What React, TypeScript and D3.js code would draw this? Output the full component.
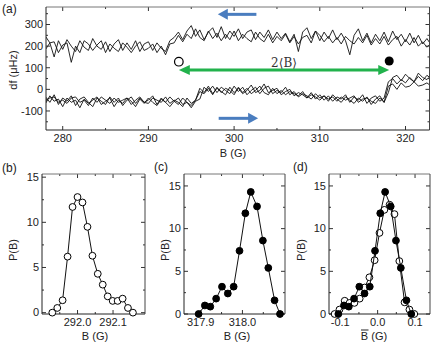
import React from 'react';
import * as d3 from 'd3';

const W = 436;
const H = 346;
const sans = "'Liberation Sans', Arial, Helvetica, sans-serif";

// (a) df traces in uHz, one value every 0.5 G starting at 278 G
const fieldStart = 278;
const fieldStep = 0.5;

const downSweep1 = [
  245, 215, 150, 225, 185, 230, 200, 175, 225, 195,
  180, 235, 200, 185, 220, 175, 210, 230, 180, 215,
  185, 225, 175, 210, 220, 180, 215, 190, 175, 225,
  240, 265, 230, 270, 295, 245, 275, 230, 265, 285,
  240, 290, 235, 270, 245, 280, 235, 265, 275, 230,
  265, 240, 275, 230, 265, 235, 260, 220, 255, 175,
  265, 285, 235, 270, 225, 265, 235, 275, 230, 260,
  225, 160, 250, 280, 225, 260, 215, 255, 225, 265,
  220, 270, 230, 255, 220, 260, 215, 250, 210, 235, 205,
];
const downSweep2 = [
  185, 215, 220, 170, 205, 215, 125, 200, 170, 225,
  210, 180, 205, 225, 170, 210, 190, 175, 215, 195,
  170, 200, 220, 180, 190, 210, 170, 200, 160, 210,
  215, 250, 220, 255, 235, 280, 240, 225, 270, 235,
  260, 225, 255, 230, 270, 225, 255, 235, 220, 265,
  235, 220, 255, 215, 245, 225, 255, 215, 245, 210,
  240, 250, 215, 270, 250, 220, 245, 215, 240, 210,
  245, 225, 210, 240, 215, 250, 205, 235, 210, 245,
  205, 230, 245, 200, 230, 205, 240, 200, 220, 195, 215,
];
const upSweep1 = [
  -35, -60, -25, -70, -40, -55, -30, -75, -45, -35,
  -60, -80, -40, -55, -70, -35, -60, -40, -75, -50,
  -35, -65, -40, -60, -50, -30, -70, -40, -60, -35,
  -55, -70, -40, -60, -75, -50, 5, -15, 15, -20,
  5, -10, -25, 10, -15, 5, -20, -5, 20, -15,
  -5, 25, -15, -5, 5, -25, -10, 0, -30, -15,
  -25, -40, -15, -45, -25, -50, -30, -55, -35, -45,
  -25, -60, -35, -50, -25, -65, -40, -30, -55, -40,
  35, 50, 25, 45, 30, 55, 35, 60, 40, 65, 50,
];
const upSweep2 = [
  -65, -30, -55, -45, -80, -40, -60, -50, -85, -45,
  -65, -50, -35, -70, -55, -40, -80, -50, -65, -40,
  -55, -80, -45, -65, -40, -60, -75, -45, -60, -80,
  -55, -40, -70, -60, -85, -55, -45, 10, -10, 15,
  -15, 10, -5, -20, 15, -10, 10, -25, -5, 10,
  -20, 5, 15, -20, -5, -15, 10, -25, -10, -35,
  -20, -30, -45, -20, -40, -30, -55, -25, -45, -60,
  -35, -50, -65, -40, -55, -35, -70, -45, -30, -60,
  15, 25, 0, 30, 10, 15, 35, 15, 20, 30, 15,
];
const upSweep3 = [
  -50, -40, -35, -60, -50, -65, -40, -35, -60, -50,
  -75, -40, -60, -35, -50, -65, -40, -60, -50, -40,
  -70, -50, -35, -60, -65, -40, -50, -60, -35, -65,
  -50, -60, -80, -40, -65, -50, -10, -20, 5, -25,
  10, -15, 5, -5, -25, 10, -15, 5, -20, -5,
  15, -15, -25, 5, -20, -5, -25, -10, -20, -30,
  -10, -40, -25, -35, -50, -30, -45, -35, -55, -35,
  -50, -40, -30, -60, -45, -40, -55, -65, -40, -60,
  -15, 55, 65, 40, 70, 50, 35, 75, 55, 45, 65,
];

// switching fields marked in (a)
const switchDown = { field: 293.55, df: 128 };
const switchUp = { field: 318.1, df: 131 };
const spanDf = 90;
const sweepArrowDown = { from: 302.6, to: 298.1, df: 347 };
const sweepArrowUp = { from: 298.2, to: 302.8, df: -134 };

// (b) switching field distribution, down sweep
const bField = [
  291.929, 291.943, 291.958, 291.972, 291.986, 292.0, 292.014, 292.028, 292.042,
  292.057, 292.071, 292.085, 292.099, 292.113, 292.127, 292.142, 292.156,
];
const bProb = [0, 0.52, 1.37, 6.2, 11.7, 12.8, 12.2, 9.5, 6.3, 4.3, 3.1, 1.8, 1.3, 1.3, 1.55, 0.52, 0];

// (c) switching field distribution, up sweep
const cField = [
  317.895, 317.91, 317.923, 317.937, 317.951, 317.965, 317.979, 317.993,
  318.007, 318.02, 318.035, 318.049, 318.062, 318.077, 318.09,
];
const cProb = [0, 1.0, 0.86, 1.8, 3.2, 2.4, 3.2, 7.4, 11.8, 14.3, 12.6, 8.6, 5.4, 1.6, 0];

// (d) both distributions against the reduced field
const dOpenField = [
  -0.115, -0.102, -0.088, -0.075, -0.062, -0.048, -0.035, -0.022, -0.008,
  0.005, 0.018, 0.032, 0.045, 0.058, 0.072, 0.085, 0.098,
];
const dOpenProb = [0, 0.52, 1.55, 1.3, 1.3, 1.8, 3.1, 4.3, 6.3, 9.5, 12.2, 12.8, 11.7, 6.2, 1.37, 0.52, 0];
const dFilledField = [
  -0.105, -0.09, -0.077, -0.063, -0.049, -0.035, -0.021, -0.007,
  0.007, 0.02, 0.035, 0.049, 0.062, 0.077, 0.09,
];
const dFilledProb = [0, 1.0, 0.86, 1.8, 3.2, 2.4, 3.2, 7.4, 11.8, 14.3, 12.6, 8.6, 5.4, 1.6, 0];

const probMajor = [0, 5, 10, 15];
const probMinor = [2.5, 7.5, 12.5];

type Lin = d3.ScaleLinear<number, number>;

function Frame(props: {
  x: Lin; y: Lin;
  xMajor: number[]; xMinor: number[]; yMajor: number[]; yMinor: number[];
  xFmt: (v: number) => string; yFmt: (v: number) => string;
}) {
  const { x, y, xMajor, xMinor, yMajor, yMinor, xFmt, yFmt } = props;
  const [left, right] = x.range();
  const [bottom, top] = y.range();
  const st = { stroke: '#333', strokeWidth: 1 };
  return (
    <g fontFamily={sans} fontSize={11} fill="#222">
      {xMajor.map(v => (
        <g key={'xM' + v}>
          <line x1={x(v)} x2={x(v)} y1={bottom} y2={bottom - 4} {...st} />
          <line x1={x(v)} x2={x(v)} y1={top} y2={top + 4} {...st} />
          <text x={x(v)} y={bottom + 12} textAnchor="middle">{xFmt(v)}</text>
        </g>
      ))}
      {xMinor.map(v => (
        <g key={'xm' + v}>
          <line x1={x(v)} x2={x(v)} y1={bottom} y2={bottom - 2} {...st} />
          <line x1={x(v)} x2={x(v)} y1={top} y2={top + 2} {...st} />
        </g>
      ))}
      {yMajor.map(v => (
        <g key={'yM' + v}>
          <line x1={left} x2={left + 4} y1={y(v)} y2={y(v)} {...st} />
          <line x1={right} x2={right - 4} y1={y(v)} y2={y(v)} {...st} />
          <text x={left - 3} y={y(v)} dy="0.35em" textAnchor="end">{yFmt(v)}</text>
        </g>
      ))}
      {yMinor.map(v => (
        <g key={'ym' + v}>
          <line x1={left} x2={left + 2} y1={y(v)} y2={y(v)} {...st} />
          <line x1={right} x2={right - 2} y1={y(v)} y2={y(v)} {...st} />
        </g>
      ))}
      <line x1={left} x2={right} y1={top} y2={top} stroke="#777" />
      <line x1={right} x2={right} y1={top} y2={bottom} stroke="#444" />
      <line x1={left} x2={left} y1={top} y2={bottom} stroke="#222" />
      <line x1={left} x2={right} y1={bottom} y2={bottom} stroke="#222" />
    </g>
  );
}

function Distribution(props: { x: Lin; y: Lin; field: number[]; prob: number[]; filled: boolean }) {
  const { x, y, field, prob, filled } = props;
  const pts: [number, number][] = field.map((f, i) => [x(f), y(prob[i])]);
  const path = d3.line()(pts) || '';
  return (
    <g>
      <path d={path} fill="none" stroke="#111" strokeWidth={1} />
      {pts.map((p, i) => (
        <circle key={i} cx={p[0]} cy={p[1]} r={3.4}
          fill={filled ? '#000' : '#fff'} stroke="#000" strokeWidth={1} />
      ))}
    </g>
  );
}

function arrowHead(tipX: number, tipY: number, dir: number, len: number, half: number) {
  return `${tipX},${tipY} ${tipX - dir * len},${tipY - half} ${tipX - dir * len},${tipY + half}`;
}

export default function App() {
  // panel (a)
  const xa = d3.scaleLinear().domain([278.05, 322.8]).range([46, 429.5]);
  const ya = d3.scaleLinear().domain([-188, 381]).range([130, 7]);
  const traceLine = d3.line<number>()
    .x((_, i) => xa(fieldStart + i * fieldStep))
    .y(d => ya(d));
  const traces = [downSweep1, downSweep2, upSweep1, upSweep2, upSweep3];

  // panels (b), (c), (d)
  const xb = d3.scaleLinear().domain([291.9, 292.19]).range([42, 145]);
  const yb = d3.scaleLinear().domain([-0.15, 15.35]).range([314, 174]);
  const xc = d3.scaleLinear().domain([317.86, 318.102]).range([184, 285]);
  const yc = d3.scaleLinear().domain([0, 16.4]).range([314, 174]);
  const xd = d3.scaleLinear().domain([-0.13, 0.14]).range([329, 430]);
  const yd = d3.scaleLinear().domain([0, 16.4]).range([314, 174]);

  const f1 = d3.format('.1f');
  const fd = (v: number) => (Math.abs(v) < 1e-9 ? '0.0' : d3.format('.1f')(v).replace('−', '-'));
  const fi = (v: number) => String(v);

  const green = '#22b24c';
  const blue = '#4a7dbf';
  const gx0 = xa(switchDown.field);
  const gx1 = xa(switchUp.field);
  const gy = ya(spanDf);

  return (
    <svg width={W} height={H} style={{ position: 'absolute', left: 0, top: 0, background: '#fff' }}>
      <defs>
        <clipPath id="clipA">
          <rect x={46} y={7} width={383.5} height={123} />
        </clipPath>
      </defs>

      {/* (a) */}
      <g clipPath="url(#clipA)">
        {traces.map((t, i) => (
          <path key={i} d={traceLine(t) || ''} fill="none" stroke="#111" strokeWidth={0.9} />
        ))}
      </g>
      <Frame x={xa} y={ya}
        xMajor={[280, 290, 300, 310, 320]} xMinor={[285, 295, 305, 315]}
        yMajor={[-100, 0, 100, 200, 300]} yMinor={[-150, -50, 50, 150, 250, 350]}
        xFmt={fi} yFmt={v => (v < 0 ? '-' + Math.abs(v) : String(v))} />

      {/* sweep direction arrows */}
      <line x1={xa(sweepArrowDown.from)} x2={xa(sweepArrowDown.to) + 9} y1={ya(sweepArrowDown.df)} y2={ya(sweepArrowDown.df)}
        stroke={blue} strokeWidth={3} />
      <polygon points={arrowHead(xa(sweepArrowDown.to), ya(sweepArrowDown.df), -1, 10, 5.5)} fill={blue} />
      <line x1={xa(sweepArrowUp.from)} x2={xa(sweepArrowUp.to) - 9} y1={ya(sweepArrowUp.df)} y2={ya(sweepArrowUp.df)}
        stroke={blue} strokeWidth={3} />
      <polygon points={arrowHead(xa(sweepArrowUp.to), ya(sweepArrowUp.df), 1, 10, 5.5)} fill={blue} />

      {/* switching span */}
      <circle cx={gx0} cy={ya(switchDown.df)} r={4.3} fill="#fff" stroke="#000" strokeWidth={1.2} />
      <circle cx={gx1} cy={ya(switchUp.df)} r={4.5} fill="#000" />
      <line x1={gx0 + 9} x2={gx1 - 9} y1={gy} y2={gy} stroke={green} strokeWidth={3} />
      <polygon points={arrowHead(gx0, gy, -1, 11, 5)} fill={green} />
      <polygon points={arrowHead(gx1, gy, 1, 11, 5)} fill={green} />
      <text x={(gx0 + gx1) / 2} y={gy - 3} textAnchor="middle" fontFamily="'DejaVu Serif', 'Liberation Serif', serif"
        fontSize={12} fill="#333">2⟨B⟩</text>

      <text x={233} y={157} textAnchor="middle" fontFamily={sans} fontSize={11} fill="#222">B (G)</text>
      <text transform="translate(17,70) rotate(-90)" textAnchor="middle" fontFamily={sans} fontSize={11} fill="#222">df (μHz)</text>
      <text x={2} y={13} fontFamily={sans} fontSize={12} fill="#222">(a)</text>

      {/* (b) */}
      <Frame x={xb} y={yb} xMajor={[292.0, 292.1]} xMinor={[291.95, 292.05, 292.15]}
        yMajor={probMajor} yMinor={probMinor} xFmt={f1} yFmt={fi} />
      <Distribution x={xb} y={yb} field={bField} prob={bProb} filled={false} />
      <text x={95} y={340} textAnchor="middle" fontFamily={sans} fontSize={11} fill="#222">B (G)</text>
      <text transform="translate(17,250) rotate(-90)" textAnchor="middle" fontFamily={sans} fontSize={11} fill="#222">P(B)</text>
      <text x={2} y={172} fontFamily={sans} fontSize={12} fill="#222">(b)</text>

      {/* (c) */}
      <Frame x={xc} y={yc} xMajor={[317.9, 318.0]} xMinor={[317.95, 318.05]}
        yMajor={probMajor} yMinor={probMinor} xFmt={f1} yFmt={fi} />
      <Distribution x={xc} y={yc} field={cField} prob={cProb} filled={true} />
      <text x={237} y={340} textAnchor="middle" fontFamily={sans} fontSize={11} fill="#222">B (G)</text>
      <text transform="translate(169,250) rotate(-90)" textAnchor="middle" fontFamily={sans} fontSize={11} fill="#222">P(B)</text>
      <text x={154} y={171} fontFamily={sans} fontSize={12} fill="#222">(c)</text>

      {/* (d) */}
      <Frame x={xd} y={yd} xMajor={[-0.1, 0, 0.1]} xMinor={[-0.05, 0.05]}
        yMajor={probMajor} yMinor={probMinor} xFmt={fd} yFmt={fi} />
      <Distribution x={xd} y={yd} field={dOpenField} prob={dOpenProb} filled={false} />
      <Distribution x={xd} y={yd} field={dFilledField} prob={dFilledProb} filled={true} />
      <text x={374} y={340} textAnchor="middle" fontFamily={sans} fontSize={11} fill="#222">B (G)</text>
      <line x1={361} x2={368.5} y1={330} y2={330} stroke="#222" strokeWidth={1} />
      <text transform="translate(305,250) rotate(-90)" textAnchor="middle" fontFamily={sans} fontSize={11} fill="#222">P(B)</text>
      <text x={293} y={171} fontFamily={sans} fontSize={12} fill="#222">(d)</text>
    </svg>
  );
}
